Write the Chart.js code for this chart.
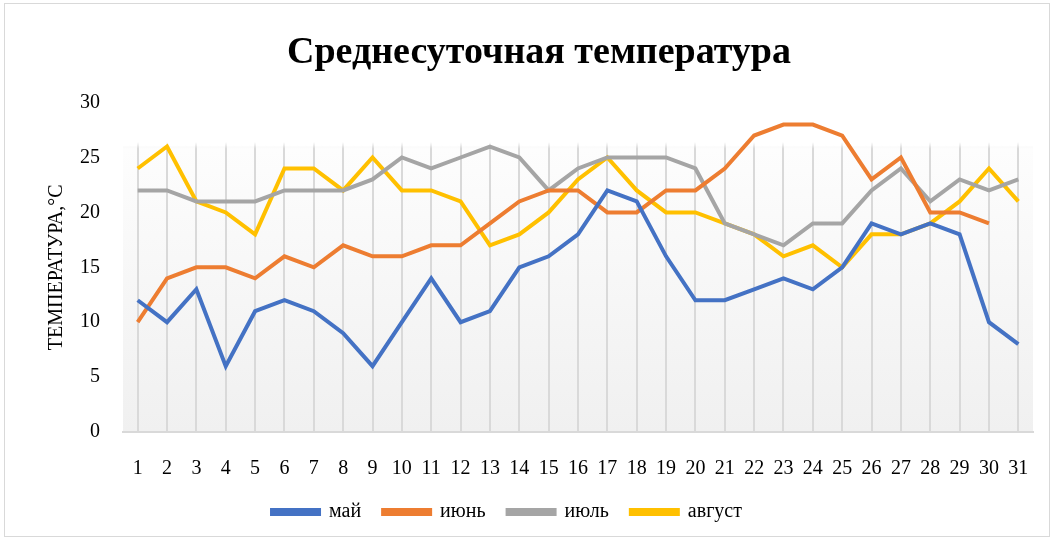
<!DOCTYPE html>
<html><head><meta charset="utf-8">
<script src="https://cdn.jsdelivr.net/npm/chart.js@4.4.1/dist/chart.umd.min.js"></script>
<style>html,body{margin:0;padding:0;background:#fff}#wrap{width:1054px;height:540px}</style>
</head><body><div id="wrap"><canvas id="c" width="1054" height="540"></canvas></div>
<script>
const days = Array.from({length:31},(_,i)=>String(i+1));
const may    = [12,10,13,6,11,12,11,9,6,10,14,10,11,15,16,18,22,21,16,12,12,13,14,13,15,19,18,19,18,10,8];
const june   = [10,14,15,15,14,16,15,17,16,16,17,17,19,21,22,22,20,20,22,22,24,27,28,28,27,23,25,20,20,19,null];
const july   = [22,22,21,21,21,22,22,22,23,25,24,25,26,25,22,24,25,25,25,24,19,18,17,19,19,22,24,21,23,22,23];
const august = [24,26,21,20,18,24,24,22,25,22,22,21,17,18,20,23,25,22,20,20,19,18,16,17,15,18,18,19,21,24,21];
const seriesNames = ['май','июнь','июль','август'];
const colors = ['#4472C4','#ED7D31','#A5A5A5','#FFC000'];
const yTicks = [0,5,10,15,20,25,30];

const serif = "'Liberation Serif','Times New Roman',serif";

const bgPlugin = {
  id:'bg',
  afterLayout(chart){
    const lg = chart.legend;
    if(lg){ lg.left -= 32; lg.right -= 32; }
  },
  beforeDraw(chart){
    const {ctx, chartArea:a} = chart;
    ctx.save();
    ctx.fillStyle='#fff'; ctx.fillRect(0,0,chart.width,chart.height);
    const g = ctx.createLinearGradient(0,a.top,0,a.bottom);
    g.addColorStop(0,'rgba(242,242,242,0)');
    g.addColorStop(0.13,'rgba(242,242,242,0)');
    g.addColorStop(0.14,'#fdfdfd');
    g.addColorStop(1,'#f0f0f0');
    ctx.fillStyle=g;
    ctx.fillRect(a.left,a.top,a.right-a.left,a.bottom-a.top);
    ctx.strokeStyle='#d9d9d9'; ctx.lineWidth=1;
    ctx.strokeRect(4.5,3.5,1045,533);
    ctx.restore();
  }
};

const datasets = [may,june,july,august].map((d,i)=>({
  label: seriesNames[i], data: d, borderColor: colors[i], backgroundColor: colors[i],
  borderWidth: 4, pointRadius: 0, tension: 0, fill:false, spanGaps:false
}));

new Chart(document.getElementById('c'), {
  type:'line',
  data:{labels:days, datasets},
  options:{
    responsive:false, animation:false,
    layout:{padding:{left:45,right:21,top:0,bottom:8}},
    plugins:{
      title:{display:true,text:'Среднесуточная температура',color:'#000',
        font:{family:serif,size:38,weight:'bold'},padding:{top:30,bottom:27}},
      legend:{position:'bottom',
        labels:{boxWidth:47,boxHeight:4,color:'#000',padding:22,font:{family:serif,size:20}}},
      tooltip:{enabled:false}
    },
    scales:{
      x:{offset:true,
        grid:{display:true,drawTicks:false,lineWidth:2,
          color:(ctx)=>{const a=ctx.chart.chartArea; if(!a) return '#d9d9d9';
            const g=ctx.chart.ctx.createLinearGradient(0,a.top,0,a.bottom);
            g.addColorStop(0,'rgba(217,217,217,0)');g.addColorStop(0.12,'rgba(217,217,217,0)');g.addColorStop(0.14,'#d9d9d9');g.addColorStop(1,'#d9d9d9');return g;}},
        border:{display:true,color:'#d9d9d9',width:2},
        ticks:{color:'#000',font:{family:serif,size:20},padding:25,autoSkip:false,maxRotation:0},
        afterFit(s){s.height=48;}
      },
      y:{min:0,max:30,
        afterBuildTicks(s){s.ticks=yTicks.map(v=>({value:v}));},
        grid:{display:false},border:{display:false},
        ticks:{color:'#000',font:{family:serif,size:20},padding:15},
        title:{display:true,text:'ТЕМПЕРАТУРА,°C',color:'#000',font:{family:serif,size:20},padding:{top:0,bottom:0}},
        afterFit(s){s.width=78;}
      }
    }
  },
  plugins:[bgPlugin]
});
</script></body></html>
